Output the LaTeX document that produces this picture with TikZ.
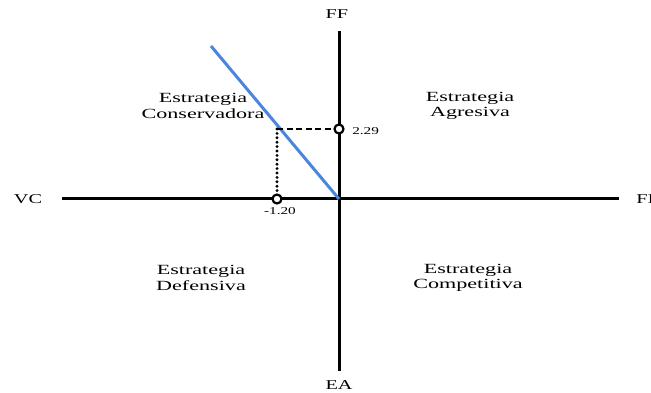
\documentclass[tikz,border=0pt]{standalone}
\usepackage{fontspec}
\setmainfont{Liberation Serif}
\usepackage{xcolor}
\usetikzlibrary{positioning,calc}

\definecolor{lineblue}{RGB}{74,134,222}

\begin{document}
\begin{tikzpicture}[
  x=1pt, y=-1pt,
  axis/.style={line width=3pt, black},
  quad/.style={align=center, font=\fontsize{14}{15.5}\selectfont, xscale=1.58, inner sep=0pt},
  axlabel/.style={font=\fontsize{13.5}{15}\selectfont, xscale=1.5, inner sep=0pt},
  val/.style={font=\fontsize{10.5}{12}\selectfont, xscale=1.45, inner sep=0pt},
  dot/.style={circle, draw, line width=2.2pt, fill=white, minimum size=9pt, inner sep=0pt},
  guide/.style={line width=2.4pt, dash pattern=on 6pt off 3.5pt},
  dotguide/.style={line width=3.2pt, line cap=round, dash pattern=on 0pt off 4.4pt},
]
\useasboundingbox (0,0) rectangle (651,393);

% axes
\coordinate (top) at (339,31);
\coordinate (bottom) at (339,371);
\coordinate (left) at (62,199);
\coordinate (right) at (619,199);
\coordinate (origin) at (339,199);
\draw[axis] (top) -- (bottom);
\draw[axis] (left) -- (right);

% axis labels
\node[axlabel] (ff) at (337,14) {FF};
\node[axlabel] (ea) at (339,385) {EA};
\node[axlabel] (vc) at (28,199) {VC};
\node[axlabel, anchor=west] (fi) at (636,199) {FI};

% quadrant labels
\node[quad] (cons) at (203,106) {Estrategia\\Conservadora};
\node[quad] (agr) at (470,106) {Estrategia\\Agresiva};
\node[quad] (def) at (201,278) {Estrategia\\Defensiva};
\node[quad] (comp) at (468,278) {Estrategia\\Competitiva};

% vector
\coordinate (tip) at (211,46);
\draw[line width=3pt, lineblue] (tip) -- (origin);

% projections
\coordinate (pt) at (277,129);
\node[dot] (yval) at (339,129) {};
\node[dot] (xval) at (277,199) {};
\draw[guide] (pt) -- (yval.west);
\draw[dotguide] (pt) -- (xval.north);
\node[val, anchor=west] (ylab) at (352,131) {2.29};
\node[val] (xlab) at (280,211) {-1.20};

\end{tikzpicture}
\end{document}
